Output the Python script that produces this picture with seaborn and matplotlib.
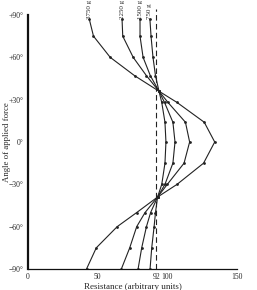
import matplotlib
matplotlib.use("Agg")
import matplotlib.pyplot as plt
import seaborn as sns
import pandas as pd

angles = [87, 75, 60, 47, 36, 28, 14, 0, -15, -30, -39, -50, -60, -75, -90]
r_3750 = [44, 47, 59, 76.5, 94, 107, 126.5, 134, 126, 107, 93, 78, 64, 49, 42]
r_2250 = [67.5, 68, 75.5, 85, 94, 100.5, 113, 116, 112, 100, 93, 84, 78, 73, 67]
r_1500 = [80.4, 80.4, 82.6, 87.8, 94, 98, 104, 105.5, 104, 98.3, 93, 88, 85, 81.6, 79]
r_750 = [87.5, 88.3, 89.7, 91.5, 94, 96, 98.3, 99, 98.3, 96, 93, 91.5, 90.5, 88.8, 87.6]
loads = ["3750 g", "2250 g", "1500 g", "750 g"]
ref_x = 92
x_ticks = [0, 50, 92, 100, 150]
y_ticks = [90, 60, 30, 0, -30, -60, -90]
y_labels = ["+90°", "+60°", "+30°", "0°", "−30°", "−60°", "−90°"]

sns.set_style("white")
plt.rcParams["font.family"] = ["Liberation Serif", "DejaVu Serif"]

series = [r_3750, r_2250, r_1500, r_750]
rows = []
for name, vals in zip(loads, series):
    for a, v in zip(angles, vals):
        rows.append({"load": name, "angle": a, "resistance": v})
df = pd.DataFrame(rows)

fig = plt.figure(figsize=(2.57, 2.90), dpi=100)
ax = fig.add_axes([28 / 257, 21 / 290, 209 / 257, 254 / 290])

sns.lineplot(data=df, x="resistance", y="angle", hue="load", units="load",
             estimator=None, sort=False, palette=["#222222"] * 4,
             linewidth=0.8, marker="o", markersize=2, markeredgewidth=0,
             legend=False, ax=ax)

ax.plot([ref_x, ref_x], [-90, 94], ls=(0, (5, 3)), color="#222222", lw=0.8, clip_on=False)

for name, vals in zip(loads, series):
    ax.text(vals[0], angles[0] + 0.5, name, rotation=90, ha="center", va="bottom",
            fontsize=5.0, clip_on=False)

ax.set_xlim(0, 150)
ax.set_ylim(-90, 90)
ax.set_xticks(x_ticks)
ax.set_xticklabels([str(t) for t in x_ticks], fontsize=5.5)
ax.set_yticks(y_ticks)
ax.set_yticklabels(y_labels, fontsize=5.5)
ax.tick_params(axis="both", direction="inout", length=3, width=0.7, pad=1.5)
ax.set_xlabel("Resistance (arbitrary units)", fontsize=6.5, labelpad=1)
ax.set_ylabel("Angle of applied force", fontsize=6.3)
ax.yaxis.set_label_coords(-0.082, 0.5)

for s in ["top", "right"]:
    ax.spines[s].set_visible(False)
ax.spines["left"].set_linewidth(1.6)
ax.spines["bottom"].set_linewidth(0.9)
ax.spines["left"].set_color("#111111")
ax.spines["bottom"].set_color("#111111")

fig.savefig("out.png", dpi=100)
